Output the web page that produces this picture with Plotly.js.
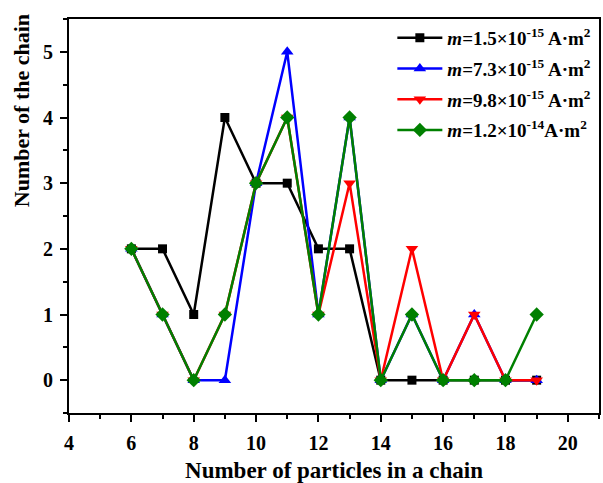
<!DOCTYPE html>
<html>
<head>
<meta charset="utf-8">
<script src="https://cdn.plot.ly/plotly-3.0.1.min.js"></script>
<style>html,body{margin:0;padding:0;background:#fff;}#chart{width:603px;height:483px;}</style>
</head>
<body>
<div id="chart"></div>
<script>
const particles = [6, 7, 8, 9, 10, 11, 12, 13, 14, 15, 16, 17, 18, 19];
const chainsM15 = [2, 2, 1, 4, 3, 3, 2, 2, 0, 0, 0, 0, 0, 0];
const chainsM73 = [2, 1, 0, 0, 3, 5, 1, 4, 0, 1, 0, 1, 0, 0];
const chainsM98 = [2, 1, 0, 1, 3, 4, 1, 3, 0, 2, 0, 1, 0, 0];
const chainsM12 = [2, 1, 0, 1, 3, 4, 1, 4, 0, 1, 0, 0, 0, 1];
const seriesNames = [
  '<i>m</i>=1.5×10<sup>-15</sup> A·m<sup>2</sup>',
  '<i>m</i>=7.3×10<sup>-15</sup> A·m<sup>2</sup>',
  '<i>m</i>=9.8×10<sup>-15</sup> A·m<sup>2</sup>',
  '<i>m</i>=1.2×10<sup>-14</sup>A·m<sup>2</sup>'
];
const xTicks = [4, 6, 8, 10, 12, 14, 16, 18, 20];
const yTicks = [0, 1, 2, 3, 4, 5];
const xTitle = 'Number of particles in a chain';
const yTitle = 'Number of the chain';

const colors = ['#000000', '#0000ff', '#ff0000', '#008000'];
const symbols = ['square', 'triangle-up', 'triangle-down', 'diamond'];
const sizes = [9, 11, 11, 11];
const ys = [chainsM15, chainsM73, chainsM98, chainsM12];

const font = {family: 'Liberation Serif, Times New Roman, serif', color: '#000'};

const traces = ys.map((y, i) => ({
  x: particles, y: y, name: seriesNames[i], type: 'scatter', mode: 'lines+markers',
  legendgroup: 'g' + i,
  line: {color: colors[i], width: 2.5},
  marker: {symbol: symbols[i], size: sizes[i], color: colors[i]}
}));

const axisCommon = {
  showgrid: false, zeroline: false, showline: true, linecolor: '#000', linewidth: 2,
  mirror: true, ticks: 'outside', ticklen: 7, tickwidth: 2, tickcolor: '#000',
  tickfont: Object.assign({size: 20, weight: 'bold'}, font),
  minor: {ticks: 'outside', ticklen: 4, tickwidth: 2, tickcolor: '#000'}
};

const layout = {
  width: 603, height: 483,
  margin: {l: 69, r: 4, t: 19, b: 70},
  paper_bgcolor: '#fff', plot_bgcolor: '#fff',
  font: font,
  showlegend: true,
  xaxis: Object.assign({}, axisCommon, {
    range: [4, 21], tickvals: xTicks, ticktext: xTicks.map(String),
    minor: Object.assign({}, axisCommon.minor, {dtick: 1, tick0: 0}),
    ticklabelstandoff: 4,
    title: {text: xTitle, font: Object.assign({size: 23, weight: 'bold'}, font), standoff: 18}
  }),
  yaxis: Object.assign({}, axisCommon, {
    range: [-0.5, 5.5], tickvals: yTicks, ticktext: yTicks.map(String),
    minor: Object.assign({}, axisCommon.minor, {dtick: 0.5, tick0: 0}),
    ticklabelstandoff: 3
  }),
  annotations: [{
    text: yTitle, textangle: -90, showarrow: false,
    xref: 'paper', yref: 'paper', x: -0.089, y: 1.018, xanchor: 'center', yanchor: 'top',
    font: Object.assign({size: 22, weight: 'bold'}, font)
  }],
  legend: {
    x: 0.995, xanchor: 'right', y: 1.0, yanchor: 'top',
    bgcolor: 'rgba(0,0,0,0)', borderwidth: 0,
    font: Object.assign({size: 19, weight: 'bold'}, font),
    tracegroupgap: 3, itemwidth: 45
  }
};

Plotly.newPlot('chart', traces, layout, {displayModeBar: false, staticPlot: true});
</script>
</body>
</html>
